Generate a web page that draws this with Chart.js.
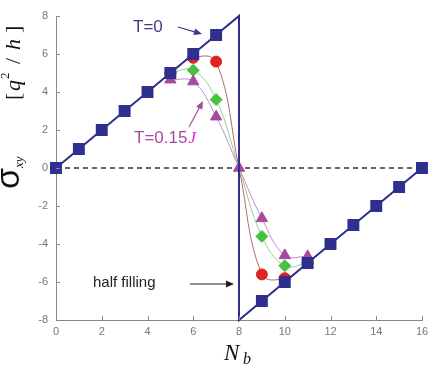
<!DOCTYPE html>
<html>
<head>
<meta charset="utf-8">
<script src="https://cdn.jsdelivr.net/npm/chart.js@4.4.0/dist/chart.umd.min.js"></script>
<style>
  html, body { margin: 0; padding: 0; background: #fff; }
  #wrap { width: 436px; height: 373px; position: relative; }
</style>
</head>
<body>
<div id="wrap"><canvas id="chart" width="436" height="373"></canvas></div>
<script>
// T = 0 (sawtooth) points
var t0N     = [0, 1, 2, 3, 4, 5, 6, 7, 8, 8, 9, 10, 11, 12, 13, 14, 15, 16];
var t0Sigma = [0, 1, 2, 3, 4, 5, 6, 7, 8, -8, -7, -6, -5, -4, -3, -2, -1, 0];

// finite temperature curves around half filling
var curveN    = [5, 6, 7, 8, 9, 10, 11];
var sigmaLow  = [5, 5.8, 5.6, 0, -5.6, -5.8, -5];      // red circles
var sigmaMid  = [5, 5.15, 3.6, 0, -3.6, -5.15, -5];    // green diamonds
var sigmaHigh = [4.65, 4.55, 2.7, 0, -2.65, -4.6, -4.65]; // T=0.15J triangles

var zeroN = [0, 16];
var zeroSigma = [0, 0];

var xTicks = [0, 2, 4, 6, 8, 10, 12, 14, 16];
var yTicks = [-8, -6, -4, -2, 0, 2, 4, 6, 8];

var navy = '#2e2f8f';

function pts(xs, ys) {
  return xs.map(function (x, i) { return { x: x, y: ys[i] }; });
}

// hide the small markers sitting exactly at the crossing point
function radii(r) {
  return curveN.map(function (n) { return n === 8 ? 0 : r; });
}

function arrow(ctx, x1, y1, x2, y2, color) {
  var a = Math.atan2(y2 - y1, x2 - x1);
  ctx.save();
  ctx.strokeStyle = color;
  ctx.fillStyle = color;
  ctx.lineWidth = 1.2;
  ctx.beginPath();
  ctx.moveTo(x1, y1);
  ctx.lineTo(x2 - 6 * Math.cos(a), y2 - 6 * Math.sin(a));
  ctx.stroke();
  ctx.beginPath();
  ctx.moveTo(x2, y2);
  ctx.lineTo(x2 - 8 * Math.cos(a) + 3.5 * Math.sin(a), y2 - 8 * Math.sin(a) - 3.5 * Math.cos(a));
  ctx.lineTo(x2 - 8 * Math.cos(a) - 3.5 * Math.sin(a), y2 - 8 * Math.sin(a) + 3.5 * Math.cos(a));
  ctx.closePath();
  ctx.fill();
  ctx.restore();
}

var decor = {
  id: 'decor',
  afterDraw: function (chart) {
    var ctx = chart.ctx;
    var xs = chart.scales.x, ys = chart.scales.y;
    var area = chart.chartArea;

    // inward tick marks
    ctx.save();
    ctx.strokeStyle = '#888';
    ctx.lineWidth = 1;
    yTicks.forEach(function (v) {
      var p = Math.round(ys.getPixelForValue(v)) + 0.5;
      ctx.beginPath(); ctx.moveTo(area.left, p); ctx.lineTo(area.left + 4, p); ctx.stroke();
    });
    xTicks.forEach(function (v) {
      var p = Math.round(xs.getPixelForValue(v)) + 0.5;
      ctx.beginPath(); ctx.moveTo(p, area.bottom); ctx.lineTo(p, area.bottom - 4); ctx.stroke();
    });
    ctx.restore();

    // annotations
    ctx.save();
    ctx.textBaseline = 'alphabetic';
    ctx.font = '17px "Liberation Sans", Arial, sans-serif';
    ctx.fillStyle = '#3b3b8c';
    ctx.fillText('T=0', 133, 32);
    arrow(ctx, 178, 27, 202, 34, '#3b3b8c');

    ctx.fillStyle = '#a34c9c';
    ctx.fillText('T=0.15', 134, 143);
    var w = ctx.measureText('T=0.15').width;
    ctx.font = 'italic 17px "Liberation Serif", serif';
    ctx.fillStyle = '#e020d0';
    ctx.fillText('J', 134 + w + 1, 143);
    arrow(ctx, 189, 127, 203, 101, '#a34c9c');

    ctx.font = '15px "Liberation Sans", Arial, sans-serif';
    ctx.fillStyle = '#222';
    ctx.fillText('half filling', 93, 287);
    arrow(ctx, 190, 284, 234, 284, '#222');

    // x title N_b
    ctx.fillStyle = '#111';
    ctx.font = 'italic 23px "Liberation Serif", serif';
    ctx.fillText('N', 224, 360);
    ctx.font = 'italic 16px "Liberation Serif", serif';
    ctx.fillText('b', 243, 364);

    // y title sigma_xy [q^2 / h]
    ctx.save();
    ctx.translate(19, 0);
    ctx.rotate(-Math.PI / 2);
    ctx.fillStyle = '#111';
    ctx.font = '34px "Liberation Sans", sans-serif';
    ctx.fillText('σ', -189, 0);
    ctx.font = 'italic 13px "Liberation Serif", serif';
    ctx.fillText('xy', -168, 4);
    ctx.font = '22px "Liberation Serif", serif';
    var y0 = -100;
    ctx.fillText('[', y0, 1);
    ctx.font = 'italic 22px "Liberation Serif", serif';
    ctx.fillText('q', y0 + 9, 1);
    ctx.font = '13px "Liberation Serif", serif';
    ctx.fillText('2', y0 + 21, -10);
    ctx.font = '22px "Liberation Serif", serif';
    ctx.fillText('/', y0 + 36, 1);
    ctx.font = 'italic 22px "Liberation Serif", serif';
    ctx.fillText('h', y0 + 50, 1);
    ctx.font = '22px "Liberation Serif", serif';
    ctx.fillText(']', y0 + 67, 1);
    ctx.restore();
    ctx.restore();
  }
};

new Chart(document.getElementById('chart').getContext('2d'), {
  type: 'line',
  data: {
    datasets: [
      {
        data: pts(zeroN, zeroSigma),
        borderColor: '#333',
        borderWidth: 1.5,
        borderDash: [5, 4],
        pointRadius: 0,
        order: 6
      },
      {
        data: pts(curveN, sigmaLow),
        borderColor: '#b46a6a',
        borderWidth: 1,
        tension: 0.4,
        pointStyle: 'circle',
        pointRadius: radii(5.5),
        pointBackgroundColor: '#e02222',
        pointBorderColor: '#e02222',
        order: 5
      },
      {
        data: pts(curveN, sigmaMid),
        borderColor: '#92d08e',
        borderWidth: 1,
        tension: 0.4,
        pointStyle: 'rectRot',
        pointRadius: radii(6),
        pointBackgroundColor: '#48c040',
        pointBorderColor: '#48c040',
        order: 4
      },
      {
        data: pts(curveN, sigmaHigh),
        borderColor: '#c88ac8',
        borderWidth: 1,
        tension: 0.4,
        pointStyle: 'triangle',
        pointRadius: 6.5,
        pointBackgroundColor: '#a8489f',
        pointBorderColor: '#a8489f',
        order: 3
      },
      {
        data: pts(t0N, t0Sigma),
        borderColor: navy,
        borderWidth: 2,
        tension: 0,
        clip: false,
        pointStyle: 'rect',
        pointRadius: t0N.map(function (n, i) { return Math.abs(t0Sigma[i]) === 8 ? 0 : 7; }),
        pointBackgroundColor: navy,
        pointBorderColor: navy,
        order: 2
      }
    ]
  },
  options: {
    responsive: false,
    animation: false,
    layout: { padding: { left: 0, top: 16, right: 14, bottom: 0 } },
    plugins: { legend: { display: false }, tooltip: { enabled: false } },
    scales: {
      x: {
        type: 'linear',
        min: 0, max: 16,
        afterFit: function (s) { s.height = 53; },
        afterBuildTicks: function (s) { s.ticks = xTicks.map(function (v) { return { value: v }; }); },
        grid: { display: false, drawTicks: false },
        border: { display: true, color: '#888', width: 1 },
        ticks: { color: '#777', padding: 5, font: { family: 'Liberation Sans', size: 11 } }
      },
      y: {
        type: 'linear',
        min: -8, max: 8,
        afterFit: function (s) { s.width = 56; },
        afterBuildTicks: function (s) { s.ticks = yTicks.map(function (v) { return { value: v }; }); },
        grid: { display: false, drawTicks: false },
        border: { display: true, color: '#888', width: 1 },
        ticks: { color: '#777', padding: 8, font: { family: 'Liberation Sans', size: 11 } }
      }
    }
  },
  plugins: [decor]
});
</script>
</body>
</html>
